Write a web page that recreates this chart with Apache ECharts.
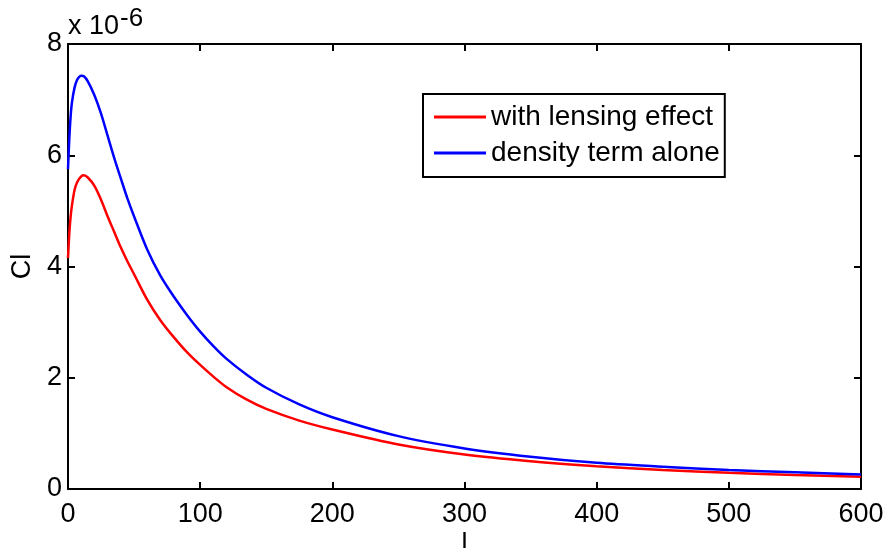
<!DOCTYPE html>
<html>
<head>
    <meta charset="UTF-8"/>
    <title>Cl vs l</title>
    <style>
        html, body{
            margin: 0;
            background: #fff;
        }
    </style>
    <script src="https://cdn.jsdelivr.net/npm/echarts@6/dist/echarts.min.js"></script>
</head>
<body>
<div id="container" style="width: 888px;height: 548px;"></div>

<script>
  // multipoles l, shared by both curves
  var ells = [0, 1, 2, 3, 5, 7, 10, 12, 15, 20, 25, 30, 35, 40, 45, 50, 60, 70, 80, 90, 100, 110, 120, 135, 150, 175, 200, 250, 300, 350, 400, 450, 500, 550, 600];
  // Cl in units of 1e-6
  var withLensing = [4.15, 4.6, 4.9, 5.1, 5.38, 5.52, 5.62, 5.64, 5.6, 5.45, 5.2, 4.9, 4.62, 4.34, 4.09, 3.86, 3.4, 3.03, 2.73, 2.46, 2.23, 2.02, 1.83, 1.61, 1.44, 1.23, 1.07, 0.8, 0.62, 0.5, 0.41, 0.34, 0.29, 0.25, 0.22];
  var densityAlone = [5.75, 6.3, 6.7, 6.95, 7.22, 7.36, 7.43, 7.42, 7.33, 7.08, 6.75, 6.35, 5.95, 5.58, 5.22, 4.9, 4.3, 3.83, 3.46, 3.13, 2.83, 2.57, 2.34, 2.06, 1.82, 1.52, 1.29, 0.95, 0.73, 0.58, 0.47, 0.4, 0.34, 0.3, 0.26];
  var seriesNames = ['with lensing effect', 'density term alone'];
  var xTicks = [0, 100, 200, 300, 400, 500, 600];
  var yTicks = [0, 2, 4, 6, 8];

  var font = 'Liberation Sans';

  function pairs(ys) {
      return ells.map(function (l, i) { return [l, ys[i]]; });
  }

  var axisLine = { show: true, onZero: false, lineStyle: { color: '#000', width: 2 } };
  var axisTick = { show: true, inside: true, length: 7, lineStyle: { color: '#000', width: 2 } };

  var dom = document.getElementById("container");
  var myChart = echarts.init(dom);
  var option = {
      animation: false,
      backgroundColor: '#fff',
      grid: { left: 68, right: 27, top: 44, bottom: 59, containLabel: false, outerBoundsMode: 'none' },
      graphic: [
          { type: 'text', x: 68, y: 27, style: { text: 'x 10', font: '27px ' + font, fill: '#000', textVerticalAlign: 'middle' } },
          { type: 'text', x: 120, y: 19, style: { text: '-6', font: '26px ' + font, fill: '#000', textVerticalAlign: 'middle' } }
      ],
      legend: {
          left: 423, top: 94,
          orient: 'vertical',
          data: seriesNames,
          icon: 'rect',
          itemWidth: 52, itemHeight: 3,
          itemGap: 8,
          padding: [9, 5, 10, 11],
          borderColor: '#000', borderWidth: 2,
          textStyle: { fontFamily: font, fontSize: 28, color: '#000', lineHeight: 28 }
      },
      xAxis: [{
          type: 'value', min: xTicks[0], max: xTicks[xTicks.length - 1], interval: 100,
          name: 'l', nameLocation: 'middle', nameGap: 42, nameMoveOverlap: false,
          nameTextStyle: { fontFamily: font, fontSize: 27, color: '#000' },
          axisLine: axisLine, axisTick: axisTick,
          axisLabel: { margin: 12, fontFamily: font, fontSize: 27, color: '#000' },
          splitLine: { show: false }
      }, {
          type: 'value', position: 'top', min: 0, max: 600, interval: 100,
          axisLine: axisLine, axisTick: axisTick, axisLabel: { show: false }, splitLine: { show: false }
      }],
      yAxis: [{
          type: 'value', min: yTicks[0], max: yTicks[yTicks.length - 1], interval: 2,
          name: 'Cl', nameLocation: 'middle', nameGap: 32, nameMoveOverlap: false,
          nameTextStyle: { fontFamily: font, fontSize: 27, color: '#000' },
          axisLine: axisLine, axisTick: axisTick,
          axisLabel: { margin: 6, fontFamily: font, fontSize: 27, color: '#000' },
          splitLine: { show: false }
      }, {
          type: 'value', position: 'right', min: 0, max: 8, interval: 2,
          axisLine: axisLine, axisTick: axisTick, axisLabel: { show: false }, splitLine: { show: false }
      }],
      series: [{
          name: seriesNames[0], type: 'line', xAxisIndex: 0, yAxisIndex: 0, data: pairs(withLensing),
          smooth: 0.3, showSymbol: false, color: '#ff0000',
          lineStyle: { width: 2.5, color: '#ff0000' }
      }, {
          name: seriesNames[1], type: 'line', xAxisIndex: 0, yAxisIndex: 0, data: pairs(densityAlone),
          smooth: 0.3, showSymbol: false, color: '#0000ff',
          lineStyle: { width: 2.5, color: '#0000ff' }
      }]
  };
  myChart.setOption(option);
</script>

</body>
</html>
